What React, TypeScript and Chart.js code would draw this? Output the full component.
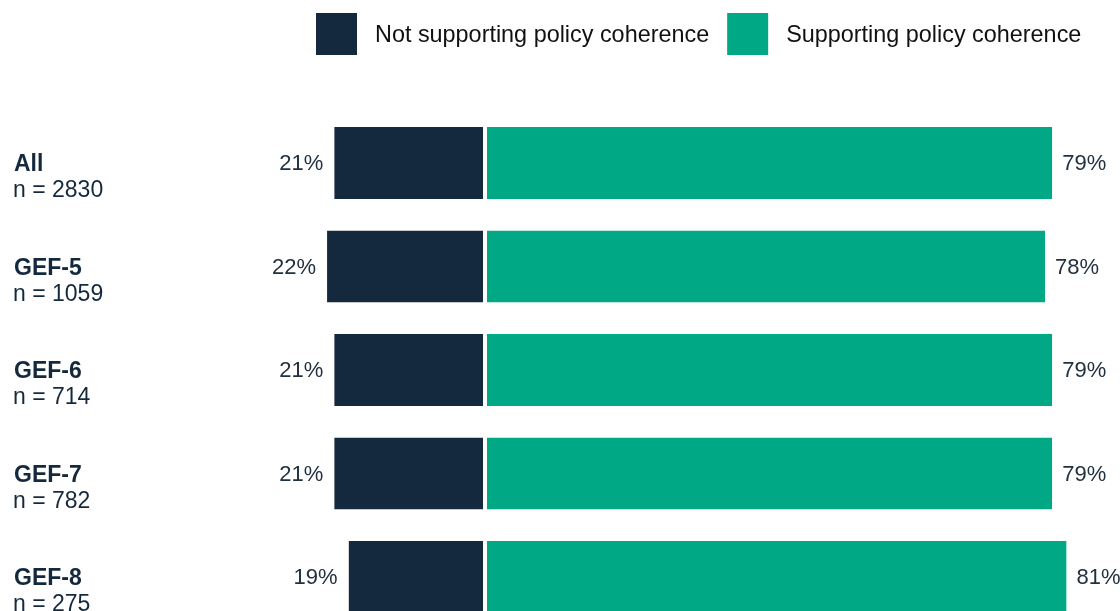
import React, { useEffect, useRef } from "react";
import { Chart, registerables } from "chart.js";

Chart.register(...registerables);

const categories = ["All", "GEF-5", "GEF-6", "GEF-7", "GEF-8"];
const sampleSizes = [2830, 1059, 714, 782, 275];
const notSupporting = [21, 22, 21, 21, 19];
const supporting = [79, 78, 79, 79, 81];
const seriesLabels = ["Not supporting policy coherence", "Supporting policy coherence"];

const NAVY = "#14293D";
const GREEN = "#00A886";
const FONT = "'Liberation Sans', Arial, sans-serif";

export default function App() {
  const ref = useRef<HTMLCanvasElement | null>(null);

  useEffect(() => {
    const canvas = ref.current;
    if (!canvas) return;

    const labelsPlugin = {
      id: "customLabels",
      afterDatasetsDraw(chart: any) {
        const ctx = chart.ctx;
        ctx.save();
        // value labels
        ctx.font = `22px ${FONT}`;
        ctx.fillStyle = "#22313F";
        ctx.textBaseline = "middle";
        chart.data.datasets.forEach((ds: any, di: number) => {
          const meta = chart.getDatasetMeta(di);
          meta.data.forEach((el: any, i: number) => {
            const v = Math.abs(ds.data[i]);
            const left = Math.min(el.x, el.base);
            const right = Math.max(el.x, el.base);
            if (di === 0) {
              ctx.textAlign = "right";
              ctx.fillText(`${v}%`, left - 11, el.y + 1);
            } else {
              ctx.textAlign = "left";
              ctx.fillText(`${v}%`, right + 10, el.y + 1);
            }
          });
        });
        // category labels
        const yScale = chart.scales.y;
        ctx.textAlign = "left";
        ctx.fillStyle = NAVY;
        categories.forEach((c, i) => {
          const y = yScale.getPixelForValue(i);
          ctx.font = `bold 23px ${FONT}`;
          ctx.fillText(c, 14, y + 2);
          ctx.font = `23px ${FONT}`;
          ctx.fillText(`n = ${sampleSizes[i]}`, 13, y + 28);
        });
        // legend
        ctx.font = `23.4px ${FONT}`;
        const colors = [NAVY, GREEN];
        let x = 316;
        const boxW = 41;
        const boxH = 42;
        const boxY = 13;
        seriesLabels.forEach((lab, i) => {
          ctx.fillStyle = colors[i];
          ctx.fillRect(x, boxY, boxW, boxH);
          ctx.fillStyle = "#111111";
          ctx.textAlign = "left";
          ctx.fillText(lab, x + boxW + 18, boxY + boxH / 2 + 2);
          x += boxW + 18 + ctx.measureText(lab).width + 18;
        });
        ctx.restore();
      },
    };

    const chart = new Chart(canvas, {
      type: "bar",
      data: {
        labels: categories,
        datasets: [
          {
            label: seriesLabels[0],
            data: notSupporting.map((v) => -v),
            backgroundColor: NAVY,
            borderColor: "#ffffff",
            borderWidth: { right: 2, left: 0, top: 0, bottom: 0 },
            borderSkipped: false,
            barPercentage: 0.6957,
            categoryPercentage: 1,
          },
          {
            label: seriesLabels[1],
            data: supporting,
            backgroundColor: GREEN,
            borderColor: "#ffffff",
            borderWidth: { left: 2, right: 0, top: 0, bottom: 0 },
            borderSkipped: false,
            barPercentage: 0.6957,
            categoryPercentage: 1,
          },
        ],
      },
      options: {
        indexAxis: "y",
        responsive: false,
        animation: false,
        layout: { padding: { left: 197.8, right: 24.7, top: 111.25, bottom: 11.25 } },
        plugins: {
          legend: { display: false },
          tooltip: { enabled: false },
        },
        scales: {
          x: { stacked: true, min: -40, max: 85, display: false },
          y: { stacked: true, display: false },
        },
      },
      plugins: [labelsPlugin],
    });
    return () => chart.destroy();
  }, []);

  return (
    <div
      style={{
        position: "fixed",
        left: 0,
        top: 0,
        width: 1120,
        height: 611,
        overflow: "hidden",
        background: "#ffffff",
      }}
    >
      <canvas ref={ref} width={1120} height={640} style={{ display: "block" }} />
    </div>
  );
}
